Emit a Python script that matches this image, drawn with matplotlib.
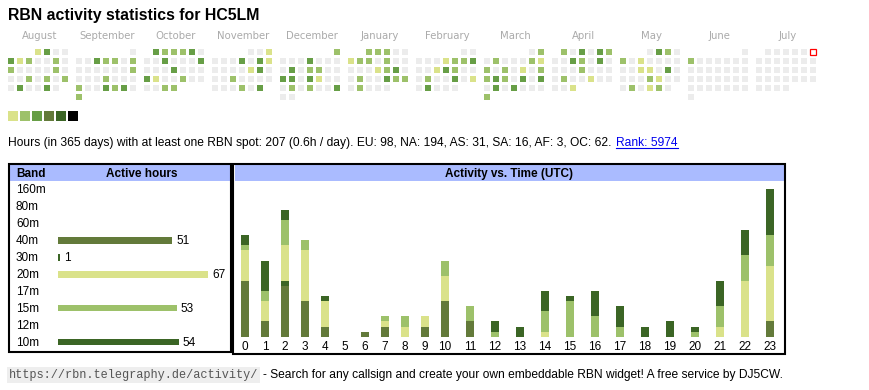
import matplotlib
matplotlib.use("Agg")
import matplotlib.pyplot as plt
from matplotlib.patches import Rectangle
import numpy as np

W, H = 870, 390

# ---------------- data ----------------
title = "RBN activity statistics for HC5LM"

months = ["August", "September", "October", "November", "December", "January",
          "February", "March", "April", "May", "June", "July"]
# one string per calendar week (Mon..Sun); '.' = no day, 0-3 activity level, 'T' = today
calendar = [
    ["...1300", "3120020", "2000020", "0020202", "030030."],
    ["......0", "0032202", "0000002", "0002000", "2003230", "2......"],
    [".322230", "0030003", "0003000", "3100200", "0022..."],
    ["....001", "0003031", "0000130", "0020000", "000203."],
    ["......2", "0003000", "0302200", "3303100", "0202003", "00....."],
    ["..22200", "1220200", "0001230", "0200322", "02000.."],
    [".....00", "0001223", "0013200", "0200301", "03000.."],
    [".....02", "0200021", "2020102", "2320303", "0303000", "2......"],
    [".203032", "0032030", "0002000", "0200100", "001...."],
    ["...0320", "2010000", "0011030", "0002100", "020120."],
    ["......0", "2000000", "0000000", "0000000", "0000000", "0......"],
    [".00000T", "0000000", "0000000", "0000000", "0000..."],
]

stats_text = ("Hours (in 365 days) with at least one RBN spot: 207 (0.6h / day). "
              "EU: 98, NA: 194, AS: 31, SA: 16, AF: 3, OC: 62.")
rank_text = "Rank: 5974"

bands = ["160m", "80m", "60m", "40m", "30m", "20m", "17m", "15m", "12m", "10m"]
band_hours = [0, 0, 0, 51, 1, 67, 0, 53, 0, 54]

hours = list(range(24))
hourly = {
    "40m": [11, 3, 10, 7, 2, 0, 1, 2, 0, 2, 7, 3, 0, 0, 0, 0, 0, 0, 0, 0, 0, 0, 0, 3],
    "30m": [0, 0, 1, 0, 0, 0, 0, 0, 0, 0, 0, 0, 0, 0, 0, 0, 0, 0, 0, 0, 0, 0, 0, 0],
    "20m": [6, 4, 7, 10, 5, 0, 0, 1, 2, 2, 5, 0, 0, 0, 1, 0, 0, 0, 0, 0, 0, 2, 11, 11],
    "15m": [1, 2, 5, 2, 0, 0, 0, 1, 2, 0, 3, 3, 1, 0, 4, 7, 4, 2, 0, 0, 1, 4, 5, 6],
    "10m": [2, 6, 2, 0, 1, 0, 0, 0, 0, 0, 0, 0, 2, 2, 4, 1, 5, 4, 2, 3, 1, 5, 5, 9],
}

footer_url = "https://rbn.telegraphy.de/activity/"
footer_text = "- Search for any callsign and create your own embeddable RBN widget! A free service by DJ5CW."

# ---------------- style ----------------
YEL, LGR, MGR, OLV, DGR = "#dae28a", "#9dc16a", "#679e46", "#637a3a", "#3b6525"
level_colors = ["#ececec", YEL, LGR, MGR, OLV, DGR, "#000000"]
band_colors = {"160m": "#000000", "80m": DGR, "60m": DGR, "40m": OLV, "30m": DGR,
               "20m": YEL, "17m": MGR, "15m": LGR, "12m": MGR, "10m": DGR}
SANS = "Liberation Sans"
HDR = "#aabbff"

fig = plt.figure(figsize=(W / 100, H / 100), dpi=100)
canvas = fig.add_axes([0, 0, 1, 1])
canvas.set_xlim(0, W)
canvas.set_ylim(H, 0)
canvas.axis("off")


def px_axes(x0, y0, x1, y1):
    ax = fig.add_axes([x0 / W, 1 - y1 / H, (x1 - x0) / W, (y1 - y0) / H])
    ax.patch.set_alpha(0)
    return ax


# title
canvas.text(8, 20, title, family=SANS, fontweight="bold", fontsize=11.4,
            va="baseline", ha="left")

# calendar
for m, (name, weeks) in enumerate(zip(months, calendar)):
    x0 = 8 + 68 * m
    ax = px_axes(x0, 49, x0 + 63, 49 + 54)
    ax.set_xlim(0, 7)
    ax.set_ylim(6, 0)
    ax.axis("off")
    for r, week in enumerate(weeks):
        for c, ch in enumerate(week):
            if ch == ".":
                continue
            if ch == "T":
                ax.add_patch(Rectangle((c + 0.03, r + 0.03), 0.66, 0.66, facecolor="white",
                                       edgecolor="red", lw=0.9, clip_on=False))
            else:
                ax.add_patch(Rectangle((c, r), 0.7, 0.7, facecolor=level_colors[int(ch)], lw=0))
    canvas.text(x0 + 31.5, 39, name, family="DejaVu Sans", fontsize=7.3,
                color="#aaaaaa", ha="center", va="baseline")

# legend swatches
for i, col in enumerate(level_colors[1:]):
    canvas.add_patch(Rectangle((8 + 12 * i, 111), 10, 10, facecolor=col, lw=0))

# stats line + link
t_stats = canvas.text(8, 146, stats_text, family=SANS, fontsize=8.62, va="baseline", ha="left")
fig.canvas.draw()
rend = fig.canvas.get_renderer()
bb = t_stats.get_window_extent(rend)
lx = bb.x1 + 5
t_rank = canvas.text(lx, 146, rank_text, family=SANS, fontsize=8.62, color="#0000ee",
                     va="baseline", ha="left")
bb2 = t_rank.get_window_extent(rend)
canvas.plot([lx, bb2.x1], [147.5, 147.5], color="#0000ee", lw=0.8)

# ---- band table box
canvas.add_patch(Rectangle((10, 165), 221, 15.7, facecolor=HDR, lw=0))
canvas.add_patch(Rectangle((9.2, 164.2), 222.3, 187.3, facecolor="none",
                           edgecolor="black", lw=1.5))
canvas.text(16, 177.3, "Band", family=SANS, fontweight="bold", fontsize=8.5, va="baseline")
canvas.text(141.5, 177.3, "Active hours", family=SANS, fontweight="bold", fontsize=8.5,
            va="baseline", ha="center")

row_base = [193.3 + 16.93 * i for i in range(len(bands))]
px_per_hour = 2.24
bax = px_axes(58, 181, 231, 351)
bax.set_xlim(0, (231 - 58) / px_per_hour)
bax.set_ylim(351, 181)
bax.axis("off")
centers_y = [b - 3.7 for b in row_base]
bax.barh(centers_y, band_hours, height=6.7,
         color=[band_colors[b] for b in bands], lw=0, align="center")
for b, yb, hv in zip(bands, row_base, band_hours):
    canvas.text(16, yb, b, family=SANS, fontsize=8.5, va="baseline")
    if hv > 0:
        bax.text(hv + 4 / px_per_hour, yb, str(hv), family=SANS, fontsize=8.5, va="baseline")

# ---- hour chart box
canvas.add_patch(Rectangle((235, 165), 549, 15.7, facecolor=HDR, lw=0))
canvas.add_patch(Rectangle((233.5, 164.2), 551.7, 189.8, facecolor="none",
                           edgecolor="black", lw=1.5))
canvas.text(509.5, 177.3, "Activity vs. Time (UTC)", family=SANS, fontweight="bold",
            fontsize=8.5, va="baseline", ha="center")

px_per_unit = 5.08
base_y = 336.7
hax = px_axes(235, 181, 784, base_y)
hax.set_xlim(235, 784)
hax.set_ylim(0, (base_y - 181) / px_per_unit)
hax.axis("off")
pitch = [20 if h <= 10 else 25 for h in hours[1:]]
xc = 245 + np.concatenate([[0], np.cumsum(pitch)])
bottom = np.zeros(24)
for band in ["40m", "30m", "20m", "15m", "10m"]:
    vals = np.array(hourly[band], dtype=float)
    hax.bar(xc, vals, bottom=bottom, width=8, color=band_colors[band], lw=0)
    bottom += vals
for x, h in zip(xc, hours):
    canvas.text(x, 350, str(h), family=SANS, fontsize=8.5, ha="center", va="baseline")

# footer
t_url = canvas.text(9, 378, footer_url, family="Liberation Mono", fontsize=8.6, color="#555555",
                    va="baseline", ha="left",
                    bbox=dict(facecolor="#eeeeee", edgecolor="none", pad=1.5))
fig.canvas.draw()
bb3 = t_url.get_window_extent(rend)
canvas.text(bb3.x1 + 5, 378, footer_text, family=SANS, fontsize=8.68, va="baseline", ha="left")

fig.savefig("out.png", dpi=100)
